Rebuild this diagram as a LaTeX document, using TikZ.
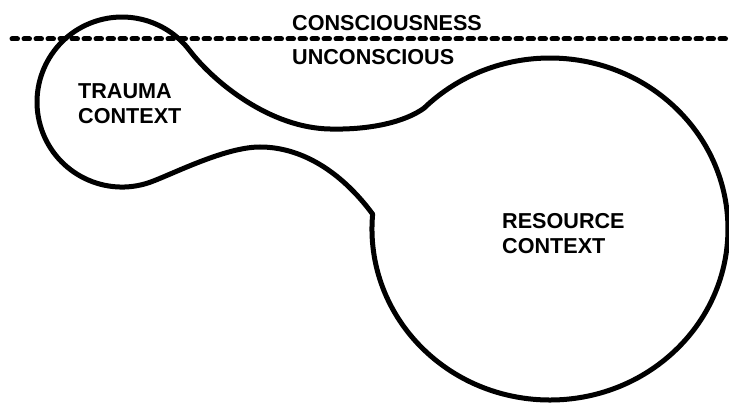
\documentclass[tikz,border=0pt]{standalone}
\usepackage{fontspec}
\setmainfont{Liberation Sans}
\begin{document}
\begin{tikzpicture}[x=1pt, y=1pt, yscale=-1,
        ctxtext/.style={inner sep=0pt, anchor=north west, align=left, font=\fontsize{21.6}{25}\selectfont\bfseries},
        outline/.style={line width=5pt, line join=round},
        divider/.style={line width=5pt, line cap=round, dash pattern=on 5.5pt off 6.5pt}]
        \useasboundingbox (0,0) rectangle (729,403);

        % 分界线
        \coordinate (lineL) at (12,39);
        \coordinate (lineR) at (735,39);
        \draw[divider] (lineL) -- (lineR);

        % 文字
        \node[ctxtext] (cons) at (292,15) {CONSCIOUSNESS};
        \node[ctxtext] (uncons) at (292,49) {UNCONSCIOUS};
        \node[ctxtext] (trauma) at (78,83) {TRAUMA\\CONTEXT};
        \node[ctxtext] (resource) at (502,213) {RESOURCE\\CONTEXT};

        % 轮廓
        \coordinate (k1) at (424.1,108.1);
        \draw[outline] (k1) arc[start angle=225, end angle=545, x radius=178, y radius=171]
            .. controls (340,170) and (300,147) .. (260,147)
            .. controls (225,147) and (173,174) .. (149.7,182.4)
            arc[start angle=71, end angle=322.6, radius=85]
            .. controls (213.8,82.2) and (270,128) .. (330,129)
            .. controls (370,130) and (405,122) .. cycle;
    \end{tikzpicture}
\end{document}
